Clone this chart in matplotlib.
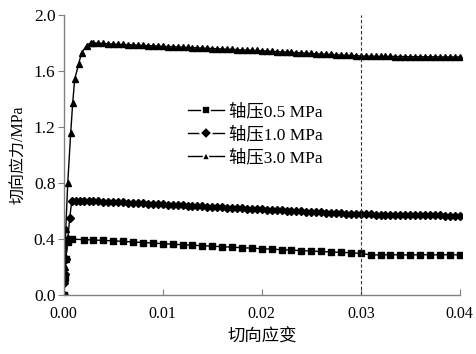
import matplotlib
matplotlib.use('Agg')
import matplotlib.pyplot as plt
from matplotlib.lines import Line2D

plt.rcParams['font.family'] = ['Liberation Serif', 'Noto Sans CJK SC']
plt.rcParams['axes.unicode_minus'] = False

# 轴压0.5 MPa (方块)
strain_05 = [0, 0.0001, 0.0002, 0.0004, 0.0008,
             0.002, 0.003, 0.004, 0.005, 0.006, 0.007, 0.008, 0.009, 0.010,
             0.011, 0.012, 0.013, 0.014, 0.015, 0.016, 0.017, 0.018, 0.019, 0.020,
             0.021, 0.022, 0.023, 0.024, 0.025, 0.026, 0.027, 0.028, 0.029, 0.030,
             0.031, 0.032, 0.033, 0.034, 0.035, 0.036, 0.037, 0.038, 0.039, 0.040]
stress_05 = [0, 0.12, 0.26, 0.38, 0.40,
             0.397, 0.394, 0.391, 0.388, 0.384, 0.380, 0.376, 0.372, 0.368,
             0.364, 0.360, 0.357, 0.353, 0.350, 0.346, 0.343, 0.339, 0.336, 0.332,
             0.329, 0.325, 0.322, 0.318, 0.315, 0.312, 0.309, 0.306, 0.303, 0.298,
             0.288, 0.287, 0.289, 0.288, 0.287, 0.289, 0.288, 0.288, 0.289, 0.288]

# 峰后段的共同应变点
strain_grid = [0.0030, 0.0035, 0.0040, 0.0045, 0.0050,
               0.0055, 0.0060, 0.0065, 0.0070, 0.0075, 0.0080, 0.0085, 0.0090, 0.0095, 0.0100,
               0.0105, 0.0110, 0.0115, 0.0120, 0.0125, 0.0130, 0.0135, 0.0140, 0.0145, 0.0150,
               0.0155, 0.0160, 0.0165, 0.0170, 0.0175, 0.0180, 0.0185, 0.0190, 0.0195, 0.0200,
               0.0205, 0.0210, 0.0215, 0.0220, 0.0225, 0.0230, 0.0235, 0.0240, 0.0245, 0.0250,
               0.0255, 0.0260, 0.0265, 0.0270, 0.0275, 0.0280, 0.0285, 0.0290, 0.0295, 0.0300,
               0.0305, 0.0310, 0.0315, 0.0320, 0.0325, 0.0330, 0.0335, 0.0340, 0.0345, 0.0350,
               0.0355, 0.0360, 0.0365, 0.0370, 0.0375, 0.0380, 0.0385, 0.0390, 0.0395, 0.0400]

# 轴压1.0 MPa (菱形)
strain_10_rise = [0, 0.00005, 0.0001, 0.0002, 0.0004, 0.0006, 0.0008, 0.0012, 0.0016, 0.0020, 0.0025]
stress_10_rise = [0, 0.09, 0.15, 0.26, 0.40, 0.55, 0.67, 0.672, 0.674, 0.675, 0.673]
stress_10 = [0.672, 0.670, 0.668, 0.667, 0.665,
             0.663, 0.662, 0.660, 0.658, 0.656, 0.655, 0.653, 0.651, 0.650, 0.648,
             0.646, 0.644, 0.643, 0.641, 0.639, 0.637, 0.635, 0.634, 0.632, 0.630,
             0.628, 0.626, 0.625, 0.623, 0.621, 0.619, 0.617, 0.616, 0.614, 0.612,
             0.610, 0.609, 0.607, 0.605, 0.604, 0.602, 0.600, 0.598, 0.597, 0.595,
             0.593, 0.592, 0.590, 0.588, 0.587, 0.585, 0.583, 0.581, 0.580, 0.578,
             0.577, 0.576, 0.575, 0.574, 0.574, 0.573, 0.573, 0.572, 0.572, 0.571,
             0.571, 0.570, 0.570, 0.569, 0.569, 0.569, 0.568, 0.568, 0.567, 0.567]

# 轴压3.0 MPa (三角)
strain_30_rise = [0, 0.0001, 0.0002, 0.0004, 0.0007, 0.0009, 0.0011, 0.0015, 0.0018, 0.0023, 0.0027]
stress_30_rise = [0, 0.20, 0.47, 0.80, 1.16, 1.37, 1.54, 1.65, 1.73, 1.78, 1.80]
stress_30 = [1.800, 1.798, 1.796, 1.794, 1.792,
             1.790, 1.789, 1.787, 1.786, 1.784, 1.782, 1.781, 1.779, 1.778, 1.776,
             1.774, 1.773, 1.771, 1.770, 1.768, 1.766, 1.765, 1.763, 1.762, 1.760,
             1.758, 1.757, 1.755, 1.754, 1.752, 1.750, 1.749, 1.747, 1.746, 1.744,
             1.742, 1.740, 1.738, 1.736, 1.735, 1.733, 1.731, 1.729, 1.727, 1.725,
             1.723, 1.721, 1.720, 1.718, 1.716, 1.714, 1.712, 1.711, 1.709, 1.707,
             1.706, 1.706, 1.705, 1.705, 1.704, 1.704, 1.703, 1.703, 1.702, 1.702,
             1.702, 1.701, 1.701, 1.701, 1.701, 1.700, 1.700, 1.700, 1.700, 1.700]

labels = ['轴压0.5 MPa', '轴压1.0 MPa', '轴压3.0 MPa']
markers = ['s', 'D', '^']
xticks = [0.00, 0.01, 0.02, 0.03, 0.04]
yticks = [0.0, 0.4, 0.8, 1.2, 1.6, 2.0]

fig = plt.figure(figsize=(4.76, 3.54), dpi=100)
ax = fig.add_axes([0.134, 0.166, 0.836, 0.792])

ax.plot(strain_05, stress_05, color='black', lw=1, marker='s', ms=3.8)
ax.plot(strain_10_rise + strain_grid, stress_10_rise + stress_10, color='black', lw=1,
        marker='D', ms=3.6)
ax.plot(strain_30_rise + strain_grid, stress_30_rise + stress_30, color='black', lw=1,
        marker='^', ms=4.5)

# 应变0.03处的分界线
ax.axvline(0.03, color='#333333', lw=0.8, ls=(0, (3, 2)))

ax.set_xlim(0, 0.0402)
ax.set_ylim(0, 2.0)
ax.set_xticks(xticks)
ax.set_xticklabels(['%.2f' % t for t in xticks])
ax.set_yticks(yticks)
ax.set_yticklabels(['%.1f' % t for t in yticks])

for side in ['top', 'right']:
    ax.spines[side].set_visible(False)
for side in ['left', 'bottom']:
    ax.spines[side].set_color('#808080')
    ax.spines[side].set_linewidth(1)
ax.spines['bottom'].set_bounds(0, 0.04)

ax.tick_params(axis='y', direction='out', length=4, color='#808080', labelsize=12.5, pad=2)
ax.tick_params(axis='x', direction='in', length=4, color='#808080', labelsize=11.5, pad=8)

ax.set_xlabel('切向应变', fontsize=12.5, labelpad=5)
ax.set_ylabel('切向应力/MPa', fontsize=11.5, labelpad=5)

# 图例标记周围留白，线段呈断开样式
handles = [Line2D([], [], color='black', lw=1, marker=m, ms=6, mfc='black',
                  mec='white', mew=1.2) for m in markers]
ax.legend(handles, labels, loc='upper left', bbox_to_anchor=(0.376, 0.732),
          bbox_transform=fig.transFigure, frameon=False, numpoints=1,
          borderpad=0, handlelength=2.1, handletextpad=0.3,
          labelspacing=0.36, fontsize=12.5)

fig.savefig('out.png', dpi=100)
